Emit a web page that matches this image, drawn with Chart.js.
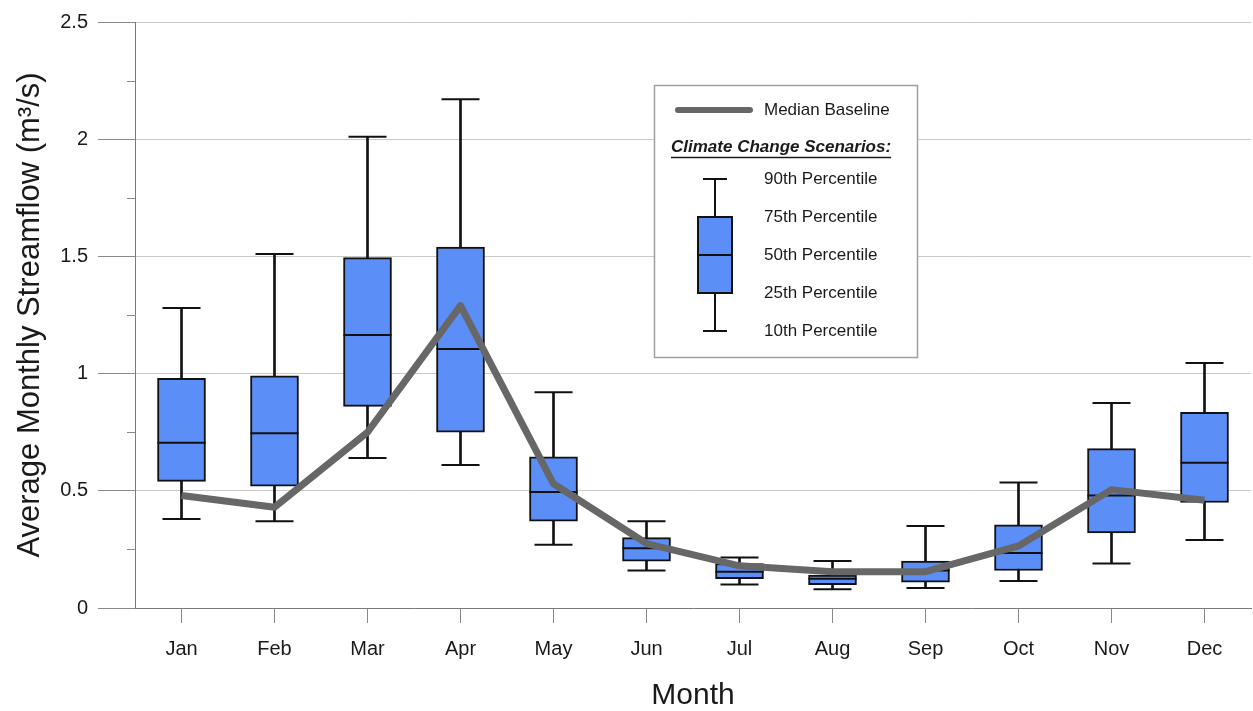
<!DOCTYPE html>
<html>
<head>
<meta charset="utf-8">
<title>Average Monthly Streamflow</title>
<script src="https://cdn.jsdelivr.net/npm/chart.js@4.4.1/dist/chart.umd.min.js"></script>
<style>
  html, body { margin: 0; padding: 0; background: #ffffff; }
  #wrap { width: 1253px; height: 711px; position: relative; }
</style>
</head>
<body>
<div id="wrap"><canvas id="chart" width="1253" height="711"></canvas></div>
<script>
// Monthly streamflow distribution under climate change scenarios (m³/s)
const months = ['Jan', 'Feb', 'Mar', 'Apr', 'May', 'Jun', 'Jul', 'Aug', 'Sep', 'Oct', 'Nov', 'Dec'];
const p10 = [0.38, 0.37, 0.64, 0.61, 0.27, 0.16, 0.10, 0.08, 0.085, 0.115, 0.19, 0.29];
const p25 = [0.54, 0.52, 0.86, 0.75, 0.37, 0.20, 0.125, 0.10, 0.11, 0.16, 0.32, 0.45];
const p50 = [0.705, 0.745, 1.165, 1.105, 0.495, 0.255, 0.155, 0.125, 0.16, 0.235, 0.48, 0.62];
const p75 = [0.98, 0.99, 1.495, 1.54, 0.645, 0.30, 0.19, 0.14, 0.20, 0.355, 0.68, 0.835];
const p90 = [1.28, 1.51, 2.01, 2.17, 0.92, 0.37, 0.215, 0.20, 0.35, 0.535, 0.875, 1.045];
// Median of the historical baseline
const baseline = [0.48, 0.43, 0.75, 1.29, 0.53, 0.275, 0.18, 0.155, 0.155, 0.265, 0.505, 0.46];

const yTicks = [0, 0.5, 1, 1.5, 2, 2.5];
const yMinorTicks = [0.25, 0.75, 1.25, 1.75, 2.25];

const legendBaselineLabel = 'Median Baseline';
const legendHeading = 'Climate Change Scenarios:';
const legendPercentiles = ['90th Percentile', '75th Percentile', '50th Percentile', '25th Percentile', '10th Percentile'];

const FONT = "'Liberation Sans', Arial, Helvetica, sans-serif";
const BOX_FILL = '#5b8ff7';
const INK = '#111111';
const LINE_GREY = '#676767';

// Short minor tick marks on the value axis
const minorTicks = {
  id: 'minorTicks',
  afterDraw(chart) {
    const y = chart.scales.y;
    const ctx = chart.ctx;
    const x0 = chart.chartArea.left;
    ctx.save();
    ctx.strokeStyle = '#8a8a8a';
    ctx.lineWidth = 1;
    yMinorTicks.forEach(v => {
      const py = Math.round(y.getPixelForValue(v)) + 0.5;
      ctx.beginPath();
      ctx.moveTo(x0 - 8, py);
      ctx.lineTo(x0, py);
      ctx.stroke();
    });
    ctx.restore();
  }
};

// Boxed key explaining the baseline line and the box-and-whisker glyph
const keyBox = {
  id: 'keyBox',
  afterDraw(chart) {
    const ctx = chart.ctx;
    const L = 654, T = 85, W = 263, H = 272;
    ctx.save();
    ctx.fillStyle = '#ffffff';
    ctx.fillRect(L, T, W, H);
    ctx.strokeStyle = '#a0a0a0';
    ctx.lineWidth = 1.5;
    ctx.strokeRect(L + 0.5, T + 0.5, W, H);

    // baseline sample
    ctx.strokeStyle = LINE_GREY;
    ctx.lineWidth = 6;
    ctx.lineCap = 'round';
    ctx.beginPath();
    ctx.moveTo(678, 110);
    ctx.lineTo(750, 110);
    ctx.stroke();

    ctx.fillStyle = '#1a1a1a';
    ctx.textBaseline = 'middle';
    ctx.textAlign = 'left';
    ctx.font = '17px ' + FONT;
    ctx.fillText(legendBaselineLabel, 764, 110);

    ctx.font = 'italic bold 17px ' + FONT;
    ctx.fillText(legendHeading, 671, 147);
    const hw = ctx.measureText(legendHeading).width;
    ctx.lineWidth = 1.4;
    ctx.strokeStyle = '#1a1a1a';
    ctx.lineCap = 'butt';
    ctx.beginPath();
    ctx.moveTo(671, 157.5);
    ctx.lineTo(671 + hw, 157.5);
    ctx.stroke();

    // box-and-whisker sample
    const cx = 715;
    const rows = [179, 217, 255, 293, 331];
    ctx.strokeStyle = INK;
    ctx.lineWidth = 2;
    ctx.beginPath();
    ctx.moveTo(cx, rows[0]); ctx.lineTo(cx, rows[4]);
    ctx.moveTo(cx - 12, rows[0]); ctx.lineTo(cx + 12, rows[0]);
    ctx.moveTo(cx - 12, rows[4]); ctx.lineTo(cx + 12, rows[4]);
    ctx.stroke();
    ctx.fillStyle = BOX_FILL;
    ctx.fillRect(cx - 17, rows[1], 34, rows[3] - rows[1]);
    ctx.strokeRect(cx - 17, rows[1], 34, rows[3] - rows[1]);
    ctx.beginPath();
    ctx.moveTo(cx - 17, rows[2]); ctx.lineTo(cx + 17, rows[2]);
    ctx.stroke();

    ctx.fillStyle = '#1a1a1a';
    ctx.font = '17px ' + FONT;
    legendPercentiles.forEach((t, i) => ctx.fillText(t, 764, rows[i]));
    ctx.restore();
  }
};

const boxRanges = months.map((m, i) => [p25[i], p75[i]]);
const whiskerRanges = months.map((m, i) => [p10[i], p90[i]]);

new Chart(document.getElementById('chart'), {
  data: {
    labels: months,
    datasets: [
      {
        type: 'line',
        label: legendBaselineLabel,
        data: baseline,
        borderColor: LINE_GREY,
        borderWidth: 7,
        pointRadius: 0,
        tension: 0,
        borderJoinStyle: 'round',
        order: 0
      },
      {
        type: 'line',
        label: '50th',
        data: p50,
        showLine: false,
        pointStyle: 'line',
        pointRadius: 24,
        pointBorderWidth: 2,
        pointBorderColor: INK,
        order: 1
      },
      {
        type: 'line',
        label: '90th',
        data: p90,
        showLine: false,
        pointStyle: 'line',
        pointRadius: 19,
        pointBorderWidth: 2,
        pointBorderColor: INK,
        order: 1
      },
      {
        type: 'line',
        label: '10th',
        data: p10,
        showLine: false,
        pointStyle: 'line',
        pointRadius: 19,
        pointBorderWidth: 2,
        pointBorderColor: INK,
        order: 1
      },
      {
        type: 'bar',
        label: '25th-75th',
        data: boxRanges,
        backgroundColor: BOX_FILL,
        borderColor: INK,
        borderWidth: 2,
        borderSkipped: false,
        barThickness: 48,
        grouped: false,
        order: 2
      },
      {
        type: 'bar',
        label: '10th-90th',
        data: whiskerRanges,
        backgroundColor: INK,
        borderWidth: 0,
        barThickness: 2,
        grouped: false,
        order: 3
      }
    ]
  },
  options: {
    responsive: false,
    animation: false,
    events: [],
    layout: { autoPadding: false, padding: { top: 22, right: 2, left: 0, bottom: 0 } },
    plugins: {
      legend: { display: false },
      tooltip: { enabled: false }
    },
    scales: {
      x: {
        type: 'category',
        offset: true,
        afterFit(scale) {
          scale.height = 103;
          scale.paddingLeft = 0;
          scale.paddingRight = 0;
        },
        grid: {
          offset: false,
          drawOnChartArea: false,
          tickLength: 15,
          tickColor: '#8a8a8a'
        },
        border: { display: true, color: '#7a7a7a', width: 1 },
        ticks: {
          color: '#1a1a1a',
          font: { family: FONT, size: 20 },
          padding: 14,
          maxRotation: 0
        },
        title: {
          display: true,
          text: 'Month',
          color: '#1a1a1a',
          font: { family: FONT, size: 30, lineHeight: 1 },
          padding: { top: 0, bottom: 0 }
        }
      },
      y: {
        type: 'linear',
        min: 0,
        max: 2.5,
        afterFit(scale) {
          scale.width = 135;
          scale.paddingTop = 0;
          scale.paddingBottom = 0;
        },
        afterBuildTicks(scale) { scale.ticks = yTicks.map(v => ({ value: v })); },
        grid: {
          color: ctx => (ctx.tick && ctx.tick.value === 0) ? 'rgba(0,0,0,0)' : '#c9c9c9',
          tickColor: '#8a8a8a',
          tickLength: 37,
          lineWidth: 1
        },
        border: { display: true, color: '#7a7a7a', width: 1 },
        ticks: {
          color: '#1a1a1a',
          font: { family: FONT, size: 20 },
          padding: 10,
          callback: v => String(v)
        },
        title: {
          display: true,
          text: 'Average Monthly Streamflow (m³/s)',
          color: '#1a1a1a',
          font: { family: FONT, size: 31, lineHeight: 1.2 },
          padding: { top: 12, bottom: 0 }
        }
      }
    }
  },
  plugins: [minorTicks, keyBox]
});
</script>
</body>
</html>
